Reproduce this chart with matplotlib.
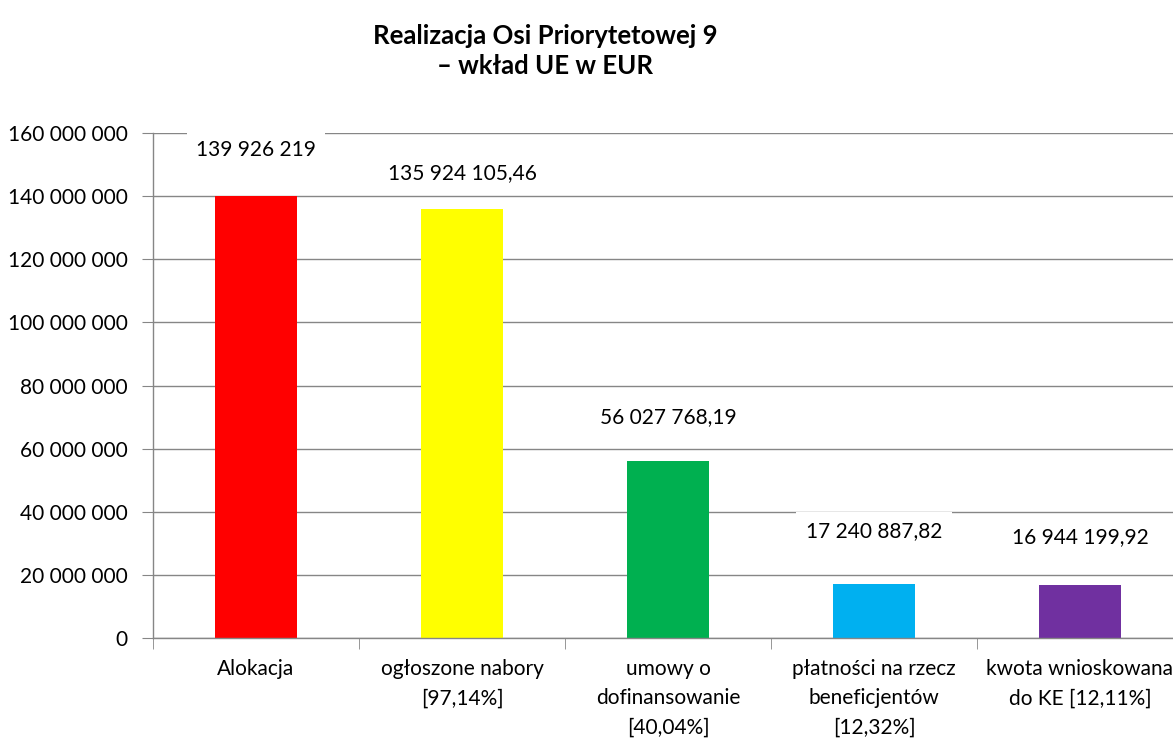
import matplotlib
matplotlib.use("Agg")
import matplotlib.pyplot as plt
from matplotlib.ticker import FuncFormatter

categories = ["Alokacja", "ogłoszone nabory\n[97,14%]", "umowy o\ndofinansowanie\n[40,04%]",
              "płatności na rzecz\nbeneficjentów\n[12,32%]", "kwota wnioskowana\ndo KE [12,11%]"]
values = [139926219, 135924105.46, 56027768.19, 17240887.82, 16944199.92]
value_labels = ["139 926 219", "135 924 105,46", "56 027 768,19", "17 240 887,82", "16 944 199,92"]
colors = ["#FF0000", "#FFFF00", "#00B050", "#00B0F0", "#7030A0"]
label_offsets_px = [40, 30, 38, 46, 41]
yticks = [0, 20e6, 40e6, 60e6, 80e6, 100e6, 120e6, 140e6, 160e6]

plt.rcParams['font.family'] = ['Lato', 'DejaVu Sans']
FS = 15

fig = plt.figure(figsize=(11.73, 7.38), dpi=100)
ax = fig.add_axes([153/1173, 1-638/738, 1030/1173, 505/738])

x = list(range(len(categories)))
ax.bar(x, values, width=0.40, color=colors, zorder=2)
ax.set_xlim(-0.5, len(categories)-0.5)
ax.set_ylim(0, 160e6)
ax.set_yticks(yticks)
ax.yaxis.set_major_formatter(FuncFormatter(lambda v, p: f"{int(v):,}".replace(",", " ")))
ax.grid(axis='y', color='#868686', linewidth=1, zorder=0)
ax.set_axisbelow(True)

ax.set_xticks(x)
ax.set_xticklabels(categories, fontsize=FS, linespacing=1.6)
ax.set_xticks([i - 0.5 for i in range(len(categories)+1)], minor=True)
ax.tick_params(axis='x', which='major', length=0, pad=15)
ax.tick_params(axis='x', which='minor', length=8, color='#868686', direction='out')
ax.tick_params(axis='y', length=8, color='#868686', labelsize=FS, pad=10, direction='out')

for s in ['top', 'right']:
    ax.spines[s].set_visible(False)
for s in ['left', 'bottom']:
    ax.spines[s].set_color('#868686')
    ax.spines[s].set_linewidth(1)

for xi, v, lab, off in zip(x, values, value_labels, label_offsets_px):
    ax.annotate(lab, (xi, v), xytext=(0, off*0.72), textcoords='offset points',
                ha='center', va='baseline', fontsize=FS, zorder=3,
                bbox=dict(boxstyle='square,pad=0.45', facecolor='white', edgecolor='none'))

fig.text(545/1173, 1-51/738, "Realizacja Osi Priorytetowej 9\n– wkład UE w EUR",
         ha='center', va='center', fontsize=18.5, fontweight='bold', linespacing=1.35)

fig.savefig("out.png", dpi=100)
